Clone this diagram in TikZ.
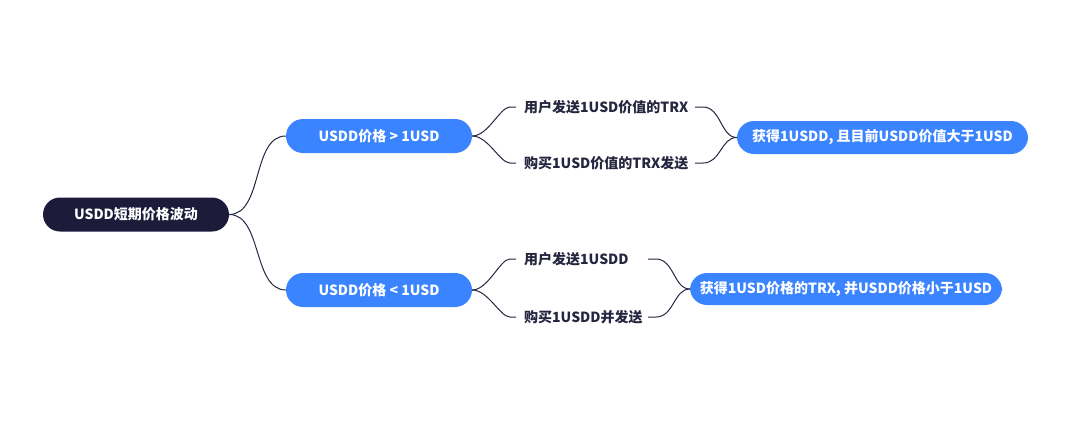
\documentclass[tikz,border=0pt]{standalone}
\usepackage{fontspec}
\newfontfamily\cjk{Noto Sans CJK SC}
\begin{document}
\begin{tikzpicture}[x=1pt,y=-1pt,
  pill/.style={rounded corners=17pt,minimum height=34pt,text=white,font=\cjk\bfseries\fontsize{14}{16}\selectfont},
  blue/.style={pill,fill=myblue},
  lbl/.style={font=\cjk\bfseries\fontsize{14}{16}\selectfont,text=mytext,inner sep=0pt},
  con/.style={draw=mytext,line width=1pt}]
\definecolor{myblue}{HTML}{3A84FF}
\definecolor{mynavy}{HTML}{1C1C3A}
\definecolor{mytext}{HTML}{262640}
\useasboundingbox (0,0) rectangle (1080,432);
\node[pill,fill=mynavy,minimum width=186pt] (r) at (136,214.5) {USDD短期价格波动};
\node[blue,minimum width=186pt] (a) at (379,136) {USDD价格 > 1USD};
\node[blue,minimum width=186pt] (b) at (379,290) {USDD价格 < 1USD};
\node[blue,minimum width=291pt,minimum height=33pt] (c) at (882.5,137.5) {获得1USDD, 且目前USDD价值大于1USD};
\node[blue,minimum width=312pt,minimum height=32pt] (d) at (846,289) {获得1USD价格的TRX, 并USDD价格小于1USD};
\node[lbl,anchor=west] (a1) at (524,107) {用户发送1USD价值的TRX};
\node[lbl,anchor=west] (a2) at (524,163) {购买1USD价值的TRX发送};
\node[lbl,anchor=west] (b1) at (524,259) {用户发送1USDD};
\node[lbl,anchor=west] (b2) at (524,317) {购买1USDD并发送};
\coordinate (a1r) at (695,107);
\coordinate (a2r) at (695,163);
\coordinate (b1r) at (648,259);
\coordinate (b2r) at (648,317);
\foreach \p/\q in {r/a,r/b}{
  \draw[con] (\p.east) to[out=0,in=180,looseness=0.9] (\q.west);}
\foreach \p/\q in {a/a1,a/a2,b/b1,b/b2}{
  \draw[con] (\p.east) .. controls ([xshift=16pt]\p.east) and ([xshift=-24pt]\q.west) .. ([xshift=-14pt]\q.west) -- ([xshift=-8pt]\q.west);}
\foreach \p/\q in {a1r/c,a2r/c,b1r/d,b2r/d}{
  \draw[con] (\p) -- ([xshift=8pt]\p) .. controls ([xshift=26pt]\p) and ([xshift=-16pt]\q.west) .. (\q.west);}
\end{tikzpicture}
\end{document}
